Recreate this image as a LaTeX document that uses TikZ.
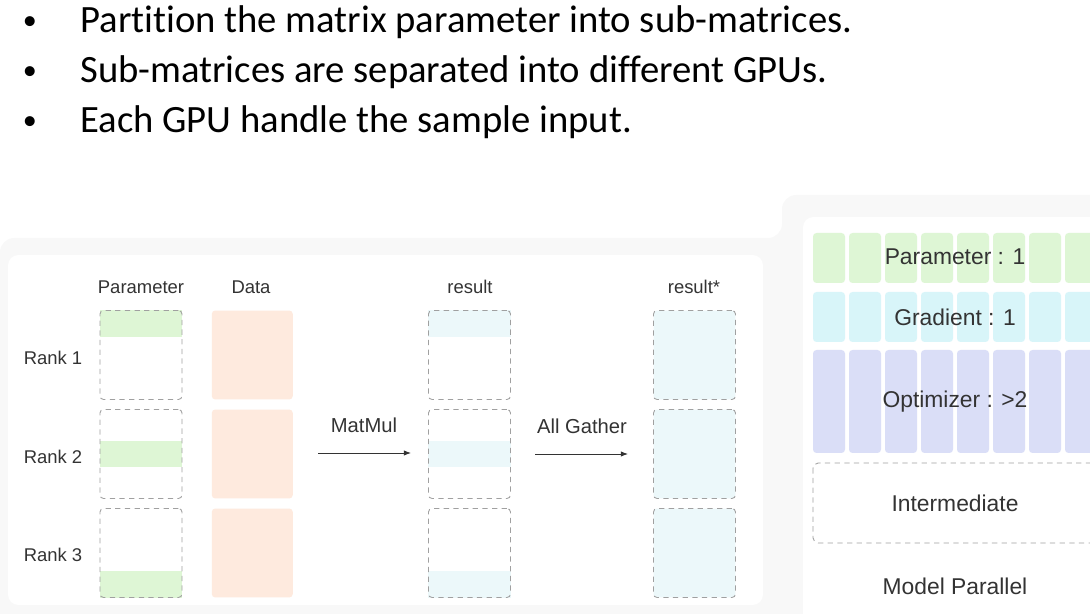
\documentclass[tikz,border=0pt]{standalone}
\usepackage{fontspec}
\setmainfont{Liberation Sans}
\newfontfamily\headfont[Ligatures=NoCommon]{Carlito}
\usepackage{tikz}
\usetikzlibrary{arrows.meta,positioning,backgrounds}
\definecolor{panel_gray}{HTML}{F8F8F8}
\definecolor{param_green}{HTML}{DEF6D5}
\definecolor{data_peach}{HTML}{FEEADE}
\definecolor{result_cyan}{HTML}{ECF8FA}
\definecolor{grad_cyan}{HTML}{D8F5F9}
\definecolor{optim_purple}{HTML}{DADEF7}
\definecolor{dash_gray}{HTML}{A0A0A0}
\definecolor{label_gray}{HTML}{333333}
\tikzset{
bullet_line/.style={anchor=base west, inner sep=0, font=\headfont\fontsize{22}{26}\selectfont},
bullet_dot/.style={anchor=base, inner sep=0, font=\headfont\fontsize{16}{20}\selectfont},
col_label/.style={text=label_gray, inner sep=0, font=\fontsize{10.5}{12}\selectfont},
slice_box/.style={rectangle, rounded corners=2pt, draw=dash_gray, dash pattern=on 3pt off 2.5pt, line width=0.5pt, minimum width=1.64cm, minimum height=1.78cm, inner sep=0},
data_block/.style={rectangle, rounded corners=2pt, fill=data_peach, minimum width=1.62cm, minimum height=1.78cm, inner sep=0},
gather_box/.style={slice_box, fill=result_cyan},
mem_text/.style={text=label_gray, inner sep=0, font=\fontsize{13}{15}\selectfont},
op_arrow/.style={-{Latex[length=4pt,width=3pt]}, line width=0.5pt, draw=label_gray}
}

\begin{document}
\begin{tikzpicture}[x=0.02cm, y=-0.02cm]
    \clip (0,0) rectangle (1090,614);
    % bullet points
    \node[bullet_dot] (dot_1) at (30,30) {\textbullet};
    \node[bullet_dot] (dot_2) at (30,80) {\textbullet};
    \node[bullet_dot] (dot_3) at (30,130) {\textbullet};
    \node[bullet_line] (line_1) at (80,33) {Partition the matrix parameter into sub-matrices.};
    \node[bullet_line] (line_2) at (80,83) {Sub-matrices are separated into different GPUs.};
    \node[bullet_line] (line_3) at (80,133) {Each GPU handle the sample input.};

    % columns
    \node[col_label] (param_head) at (141,287) {Parameter};
    \node[col_label] (data_head) at (251,287) {Data};
    \node[col_label] (result_head) at (470,287) {result};
    \node[col_label] (gather_head) at (694,287) {result*};
    \node[col_label] (rank_1) at (53,358) {Rank 1};
    \node[col_label] (rank_2) at (53,457) {Rank 2};
    \node[col_label] (rank_3) at (53,555) {Rank 3};

    \node[slice_box] (p_1) at (141,355) {};
    \node[slice_box] (p_2) at (141,454) {};
    \node[slice_box] (p_3) at (141,553) {};
    \node[data_block] (d_1) [right=0.58cm of p_1] {};
    \node[data_block] (d_2) [right=0.58cm of p_2] {};
    \node[data_block] (d_3) [right=0.58cm of p_3] {};
    \node[slice_box] (r_1) at (469.5,355) {};
    \node[slice_box] (r_2) at (469.5,454) {};
    \node[slice_box] (r_3) at (469.5,553) {};
    \node[gather_box] (g_1) at (694.5,355) {};
    \node[gather_box] (g_2) at (694.5,454) {};
    \node[gather_box] (g_3) at (694.5,553) {};

    \node[col_label, font=\fontsize{11.5}{13}\selectfont] (matmul) at (364,425) {MatMul};
    \node[col_label, font=\fontsize{11.5}{13}\selectfont] (allgather) at (582,426) {All Gather};
    \coordinate (mm_tail) at (318,453);
    \coordinate (mm_head) at (411,453);
    \coordinate (ag_tail) at (535,454);
    \coordinate (ag_head) at (628,454);
    \draw[op_arrow] (mm_tail) -- (mm_head);
    \draw[op_arrow] (ag_tail) -- (ag_head);

    % memory panel
    \foreach \i in {0,...,7} {
        \fill[param_green, rounded corners=2pt] (813+36*\i,233) rectangle +(32,50);
        \fill[grad_cyan, rounded corners=2pt] (813+36*\i,292) rectangle +(32,50);
        \fill[optim_purple, rounded corners=2pt] (813+36*\i,350) rectangle +(32,103);
    }
    \draw[dash_gray, dash pattern=on 3pt off 2.5pt, line width=0.5pt, rounded corners=3pt] (813,463) rectangle (1120,543);
    \node[mem_text] (param_mem) at (955,257) {Parameter : 1};
    \node[mem_text] (grad_mem) at (955,317) {Gradient : 1};
    \node[mem_text] (optim_mem) at (955,402) {Optimizer : >2};
    \node[mem_text] (interm_mem) at (955,503) {Intermediate};
    \node[mem_text] (model_par) at (955,586) {Model Parallel};

    \begin{scope}[on background layer]
        \fill[panel_gray, rounded corners=8pt] (0,238) -- (782,238) -- (782,195) -- (1120,195) -- (1120,640) -- (0,640) -- cycle;
        \fill[white, rounded corners=6pt] (8,255) rectangle (763,605);
        \fill[white, rounded corners=6pt] (803,217) rectangle (1120,640);
        \fill[param_green] (p_1.north west) rectangle ([yshift=-0.54cm]p_1.north east);
        \fill[param_green] ([yshift=0.26cm]p_2.west) rectangle ([yshift=-0.26cm]p_2.east);
        \fill[param_green] ([yshift=0.54cm]p_3.south west) rectangle (p_3.south east);
        \fill[result_cyan] (r_1.north west) rectangle ([yshift=-0.54cm]r_1.north east);
        \fill[result_cyan] ([yshift=0.26cm]r_2.west) rectangle ([yshift=-0.26cm]r_2.east);
        \fill[result_cyan] ([yshift=0.54cm]r_3.south west) rectangle (r_3.south east);
    \end{scope}
\end{tikzpicture}
\end{document}
